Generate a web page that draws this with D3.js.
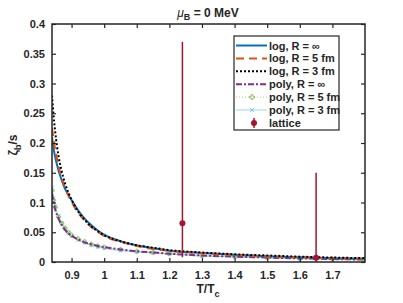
<!DOCTYPE html>
<html>
<head>
<meta charset="utf-8">
<script src="https://cdn.jsdelivr.net/npm/d3@7"></script>
<style>
  body { margin: 0; background: #fff; }
  svg text { font-family: "Liberation Sans", Arial, sans-serif; font-weight: bold; fill: #262626; }
</style>
</head>
<body>
<div id="chart"></div>
<script>
// temperature grid, T/Tc
var temps = [0.84, 0.845, 0.85, 0.86, 0.87, 0.88, 0.89, 0.9, 0.92, 0.94, 0.96, 0.98, 1.0, 1.05, 1.1, 1.15, 1.2, 1.3, 1.4, 1.5, 1.6, 1.7, 1.8];

// zeta_b / s for each model
var logInf  = [0.21, 0.19, 0.176, 0.154, 0.137, 0.123, 0.113, 0.104, 0.087, 0.073, 0.062, 0.053, 0.046, 0.035, 0.028, 0.023, 0.019, 0.015, 0.012, 0.0095, 0.008, 0.0065, 0.0055];
var log5    = [0.225, 0.205, 0.188, 0.162, 0.141, 0.125, 0.112, 0.101, 0.083, 0.07, 0.059, 0.051, 0.044, 0.034, 0.027, 0.022, 0.019, 0.015, 0.012, 0.0095, 0.008, 0.0065, 0.0055];
var log3    = [0.28, 0.245, 0.218, 0.178, 0.152, 0.132, 0.117, 0.105, 0.085, 0.071, 0.06, 0.052, 0.045, 0.035, 0.028, 0.024, 0.02, 0.016, 0.013, 0.011, 0.009, 0.0075, 0.0065];
var polyInf = [0.115, 0.1, 0.088, 0.073, 0.062, 0.054, 0.048, 0.044, 0.038, 0.033, 0.03, 0.027, 0.025, 0.021, 0.018, 0.016, 0.014, 0.011, 0.009, 0.0075, 0.006, 0.005, 0.004];
var poly5   = [0.12, 0.104, 0.092, 0.076, 0.065, 0.057, 0.05, 0.045, 0.039, 0.034, 0.03, 0.027, 0.025, 0.021, 0.018, 0.016, 0.014, 0.011, 0.009, 0.0075, 0.006, 0.005, 0.004];
var poly3   = [0.125, 0.107, 0.094, 0.077, 0.065, 0.056, 0.049, 0.044, 0.037, 0.032, 0.028, 0.025, 0.023, 0.019, 0.017, 0.015, 0.013, 0.01, 0.0085, 0.007, 0.0055, 0.0045, 0.0035];

// lattice points with asymmetric errors
var latticeT    = [1.24, 1.65];
var latticeVal  = [0.065, 0.007];
var latticeLow  = [0.008, 0.0];
var latticeHigh = [0.37, 0.15];

var xTicks = [0.9, 1.0, 1.1, 1.2, 1.3, 1.4, 1.5, 1.6, 1.7];
var yTicks = [0, 0.05, 0.1, 0.15, 0.2, 0.25, 0.3, 0.35, 0.4];

var width = 403, height = 303;
var margin = { top: 24, right: 38, bottom: 41, left: 52 };

var svg = d3.select("#chart").append("svg")
    .attr("width", width)
    .attr("height", height);

var x = d3.scaleLinear().domain([0.84, 1.8]).range([margin.left, width - margin.right]);
var y = d3.scaleLinear().domain([0, 0.4]).range([height - margin.bottom, margin.top]);

var axisColor = "#262626";

// clip region for the curves
svg.append("clipPath").attr("id", "plotclip")
    .append("rect")
    .attr("x", x(0.84)).attr("y", y(0.4))
    .attr("width", x(1.8) - x(0.84)).attr("height", y(0) - y(0.4));

var series = [
    { name: "log, R = \u221E",  vals: logInf,  color: "#0072BD", width: 2,   dash: null },
    { name: "log, R = 5 fm",    vals: log5,    color: "#D95319", width: 2,   dash: "8,5" },
    { name: "log, R = 3 fm",    vals: log3,    color: "#000000", width: 2,   dash: "2,2" },
    { name: "poly, R = \u221E", vals: polyInf, color: "#7E2F8E", width: 2,   dash: "6,2,2,2" },
    { name: "poly, R = 5 fm",   vals: poly5,   color: "#77AC30", width: 0.6, dash: "1,2", marker: "plus" },
    { name: "poly, R = 3 fm",   vals: poly3,   color: "#4DBEEE", width: 0.6, dash: null,  marker: "cross" }
];

var line = d3.line()
    .x(d => x(d[0]))
    .y(d => y(d[1]))
    .curve(d3.curveMonotoneX);

var plot = svg.append("g").attr("clip-path", "url(#plotclip)");

// draw poly curves first so log curves sit on top
var order = [5, 4, 3, 0, 1, 2];
order.forEach(function (i) {
    var s = series[i];
    var pts = temps.map((t, j) => [t, s.vals[j]]);
    plot.append("path")
        .datum(pts)
        .attr("fill", "none")
        .attr("stroke", s.color)
        .attr("stroke-width", s.width)
        .attr("stroke-dasharray", s.dash)
        .attr("d", line);
    if (s.marker) {
        var sym = d3.symbol().type(s.marker === "plus" ? d3.symbolCross : d3.symbolX).size(12);
        plot.selectAll(null)
            .data(pts)
            .enter().append("path")
            .attr("transform", d => "translate(" + x(d[0]) + "," + y(d[1]) + ")")
            .attr("d", s.marker === "plus" ? d3.symbol().type(d3.symbolCross).size(10) : d3.symbol().type(d3.symbolX).size(10))
            .attr("fill", "none")
            .attr("stroke", s.color)
            .attr("stroke-width", 0.7);
    }
});

// lattice error bars
var latColor = "#A2142F";
latticeT.forEach(function (t, i) {
    svg.append("line")
        .attr("x1", x(t)).attr("x2", x(t))
        .attr("y1", y(latticeLow[i])).attr("y2", y(latticeHigh[i]))
        .attr("stroke", latColor)
        .attr("stroke-width", 1.5);
    svg.append("circle")
        .attr("cx", x(t)).attr("cy", y(latticeVal[i]))
        .attr("r", 3)
        .attr("fill", latColor);
});

// axes with inward ticks on all four sides
var tickLen = 4;
var gx = svg.append("g")
    .attr("transform", "translate(0," + y(0) + ")")
    .call(d3.axisBottom(x).tickValues(xTicks).tickSizeInner(-tickLen).tickSizeOuter(0).tickPadding(9)
        .tickFormat(d => d === 1 ? "1" : d3.format(".1f")(d)));
var gxt = svg.append("g")
    .attr("transform", "translate(0," + y(0.4) + ")")
    .call(d3.axisTop(x).tickValues(xTicks).tickSizeInner(-tickLen).tickSizeOuter(0).tickFormat(""));
var gy = svg.append("g")
    .attr("transform", "translate(" + x(0.84) + ",0)")
    .call(d3.axisLeft(y).tickValues(yTicks).tickSizeInner(-tickLen).tickSizeOuter(0).tickPadding(7)
        .tickFormat(d => d === 0 ? "0" : String(+d.toFixed(2))));
var gyr = svg.append("g")
    .attr("transform", "translate(" + x(1.8) + ",0)")
    .call(d3.axisRight(y).tickValues(yTicks).tickSizeInner(-tickLen).tickSizeOuter(0).tickFormat(""));

[gx, gxt, gy, gyr].forEach(function (g) {
    g.select(".domain").remove();
    g.selectAll(".tick line").attr("stroke", axisColor).attr("stroke-width", 1.2);
    g.selectAll(".tick text").attr("font-size", 11).attr("fill", axisColor)
        .style("font-family", "'Liberation Sans', Arial, sans-serif").style("font-weight", "bold");
});

// box
svg.append("rect")
    .attr("x", x(0.84)).attr("y", y(0.4))
    .attr("width", x(1.8) - x(0.84)).attr("height", y(0) - y(0.4))
    .attr("fill", "none")
    .attr("stroke", axisColor)
    .attr("stroke-width", 1.5);

// title
var title = svg.append("text")
    .attr("x", 208).attr("y", 17)
    .attr("text-anchor", "middle")
    .attr("font-size", 12);
title.append("tspan").attr("font-style", "italic").attr("font-weight", "normal").text("\u03BC");
title.append("tspan").attr("dy", 3).attr("font-size", 9).text("B");
title.append("tspan").attr("dy", -3).text(" = 0 MeV");

// axis labels
var xl = svg.append("text")
    .attr("x", 208).attr("y", 293)
    .attr("text-anchor", "middle")
    .attr("font-size", 12)
    .attr("font-weight", "normal");
xl.append("tspan").text("T/T");
xl.append("tspan").attr("dy", 4).attr("font-size", 9).text("c");

var yl = svg.append("text")
    .attr("transform", "translate(17,145) rotate(-90)")
    .attr("text-anchor", "middle")
    .attr("font-size", 12)
    .attr("font-weight", "normal");
yl.append("tspan").text("\u03B6");
yl.append("tspan").attr("dy", 4).attr("font-size", 9).text("b");
yl.append("tspan").attr("dy", -4).text("/s");

// legend
var lg = svg.append("g").attr("transform", "translate(234,36)");
lg.append("rect")
    .attr("width", 105).attr("height", 94)
    .attr("fill", "#fff")
    .attr("stroke", axisColor)
    .attr("stroke-width", 1.2);

var legendItems = series.map(s => ({ name: s.name, color: s.color, width: s.width, dash: s.dash, marker: s.marker }));
legendItems.push({ name: "lattice", color: latColor, lattice: true });

legendItems.forEach(function (d, i) {
    var ly = 9.5 + i * 12.9;
    var row = lg.append("g").attr("transform", "translate(0," + ly + ")");
    if (d.lattice) {
        row.append("line").attr("x1", 20).attr("x2", 20).attr("y1", -5).attr("y2", 5)
            .attr("stroke", d.color).attr("stroke-width", 1.5);
        row.append("circle").attr("cx", 20).attr("cy", 0).attr("r", 3).attr("fill", d.color);
    } else {
        row.append("line").attr("x1", 2).attr("x2", 33).attr("y1", 0).attr("y2", 0)
            .attr("stroke", d.color)
            .attr("stroke-width", d.width)
            .attr("stroke-dasharray", d.dash);
        if (d.marker) {
            row.append("path")
                .attr("transform", "translate(18,0)")
                .attr("d", d3.symbol().type(d.marker === "plus" ? d3.symbolCross : d3.symbolX).size(14))
                .attr("fill", "none")
                .attr("stroke", d.color)
                .attr("stroke-width", 0.7);
        }
    }
    row.append("text")
        .attr("x", 35).attr("y", 4)
        .attr("font-size", 11)
        .text(d.name);
});
</script>
</body>
</html>
